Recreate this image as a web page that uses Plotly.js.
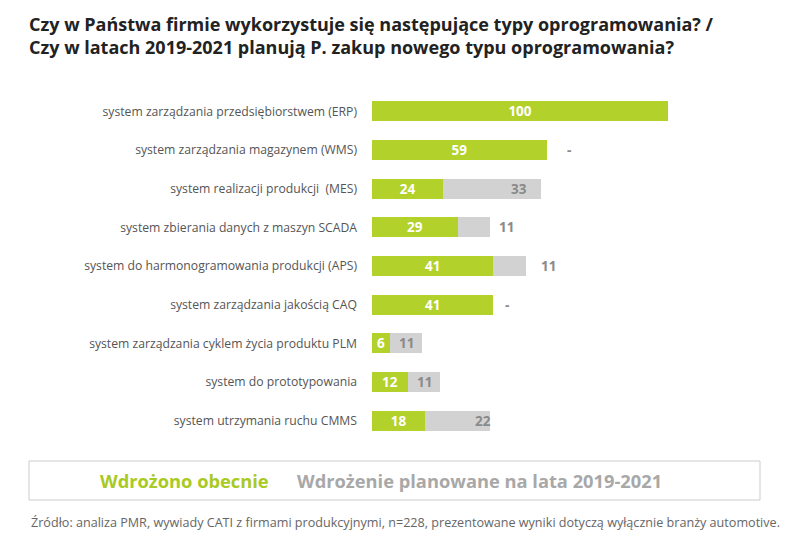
<!DOCTYPE html>
<html>
<head>
<meta charset="utf-8">
<script src="https://cdn.plot.ly/plotly-3.0.1.min.js"></script>
<style>html,body{margin:0;padding:0;background:#fff;}#chart{width:800px;height:546px;}</style>
</head>
<body>
<div id="chart"></div>
<script>
const categories = [
  "system zarządzania przedsiębiorstwem (ERP)",
  "system zarządzania magazynem (WMS)",
  "system realizacji produkcji  (MES)",
  "system zbierania danych z maszyn SCADA",
  "system do harmonogramowania produkcji (APS)",
  "system zarządzania jakością CAQ",
  "system zarządzania cyklem życia produktu PLM",
  "system do prototypowania",
  "system utrzymania ruchu CMMS"
];
const current = [100, 59, 24, 29, 41, 41, 6, 12, 18];
const planned = [0, 0, 33, 11, 11, 0, 11, 11, 22];
const plannedLabels = ["", "-", "33", "11", "11", "-", "11", "11", "22"];
const seriesNames = ["Wdrożono obecnie", "Wdrożenie planowane na lata 2019-2021"];
const titleText = "Czy w Państwa firmie wykorzystuje się następujące typy oprogramowania? /<br>Czy w latach 2019-2021 planują P. zakup nowego typu oprogramowania?";
const sourceText = "Źródło: analiza PMR, wywiady CATI z firmami produkcyjnymi, n=228, prezentowane wyniki dotyczą wyłącznie branży automotive.";

// label pixel offsets relative to the end of each stacked bar (style only)
const labelShift = [0, 22, -22, 16, 22, 14, -16, -16, -7];

const GREEN = "#b3d12b";
const GREY = "#d2d2d2";
const GREYTXT = "#8a8a8a";
const FONT = "Open Sans, sans-serif";

const W = 800, H = 546, ML = 372, MR = 40, MT = 92, MB = 106;
const pw = W - ML - MR, ph = H - MT - MB;
const px2x = p => (p - ML) / pw;
const px2y = p => (H - MB - p) / ph;

const traces = [
  {
    type: "bar", orientation: "h", name: seriesNames[0],
    y: categories, x: current,
    marker: {color: GREEN, line: {width: 0}},
    text: current.map(String), textposition: "inside", insidetextanchor: "middle", textangle: 0,
    textfont: {family: FONT, size: 13.5, color: "#ffffff", weight: "bold"},
    constraintext: "none", hoverinfo: "x+name"
  },
  {
    type: "bar", orientation: "h", name: seriesNames[1],
    y: categories, x: planned,
    marker: {color: GREY, line: {width: 0}},
    textposition: "none", hoverinfo: "x+name"
  }
];

const valueAnns = plannedLabels.map((t, i) => ({
  xref: "x", yref: "y", x: current[i] + planned[i], y: categories[i],
  xanchor: "center", yanchor: "middle", xshift: labelShift[i],
  text: t, showarrow: false,
  font: {family: FONT, size: 13.5, color: GREYTXT, weight: "bold"}
})).filter(a => a.text !== "");

const layout = {
  width: W, height: H,
  margin: {l: ML, r: MR, t: MT, b: MB, pad: 0},
  paper_bgcolor: "#fff", plot_bgcolor: "#fff",
  barmode: "stack", bargap: 0.48,
  showlegend: false,
  font: {family: FONT, color: "#555"},
  title: {
    text: titleText, x: 29 / W, xanchor: "left", xref: "container",
    y: 1 - 31 / H, yanchor: "top", yref: "container",
    font: {family: FONT, size: 18, color: "#222", weight: "bold"}
  },
  xaxis: {range: [0, 131], visible: false, fixedrange: true},
  yaxis: {
    autorange: "reversed", showgrid: false, zeroline: false, showline: false,
    ticks: "", ticklabelstandoff: 14,
    tickfont: {family: FONT, size: 12.2, color: "#555"}
  },
  shapes: [{
    type: "rect", xref: "paper", yref: "paper",
    x0: px2x(29), x1: px2x(760), y0: px2y(500), y1: px2y(461),
    line: {color: "#cccccc", width: 1}, fillcolor: "rgba(0,0,0,0)"
  }],
  annotations: valueAnns.concat([
    {xref: "paper", yref: "paper", x: px2x(184), y: px2y(480), xanchor: "center", yanchor: "middle",
     text: seriesNames[0], showarrow: false, font: {family: FONT, size: 18.3, color: "#a9c924", weight: "bold"}},
    {xref: "paper", yref: "paper", x: px2x(479), y: px2y(480), xanchor: "center", yanchor: "middle",
     text: seriesNames[1], showarrow: false, font: {family: FONT, size: 18.3, color: "#a8a8a8", weight: "bold"}},
    {xref: "paper", yref: "paper", x: px2x(29), y: px2y(522), xanchor: "left", yanchor: "middle",
     text: sourceText, showarrow: false, font: {family: FONT, size: 12.6, color: "#666"}}
  ])
};

Plotly.newPlot("chart", traces, layout, {displayModeBar: false, staticPlot: true});
</script>
</body>
</html>
